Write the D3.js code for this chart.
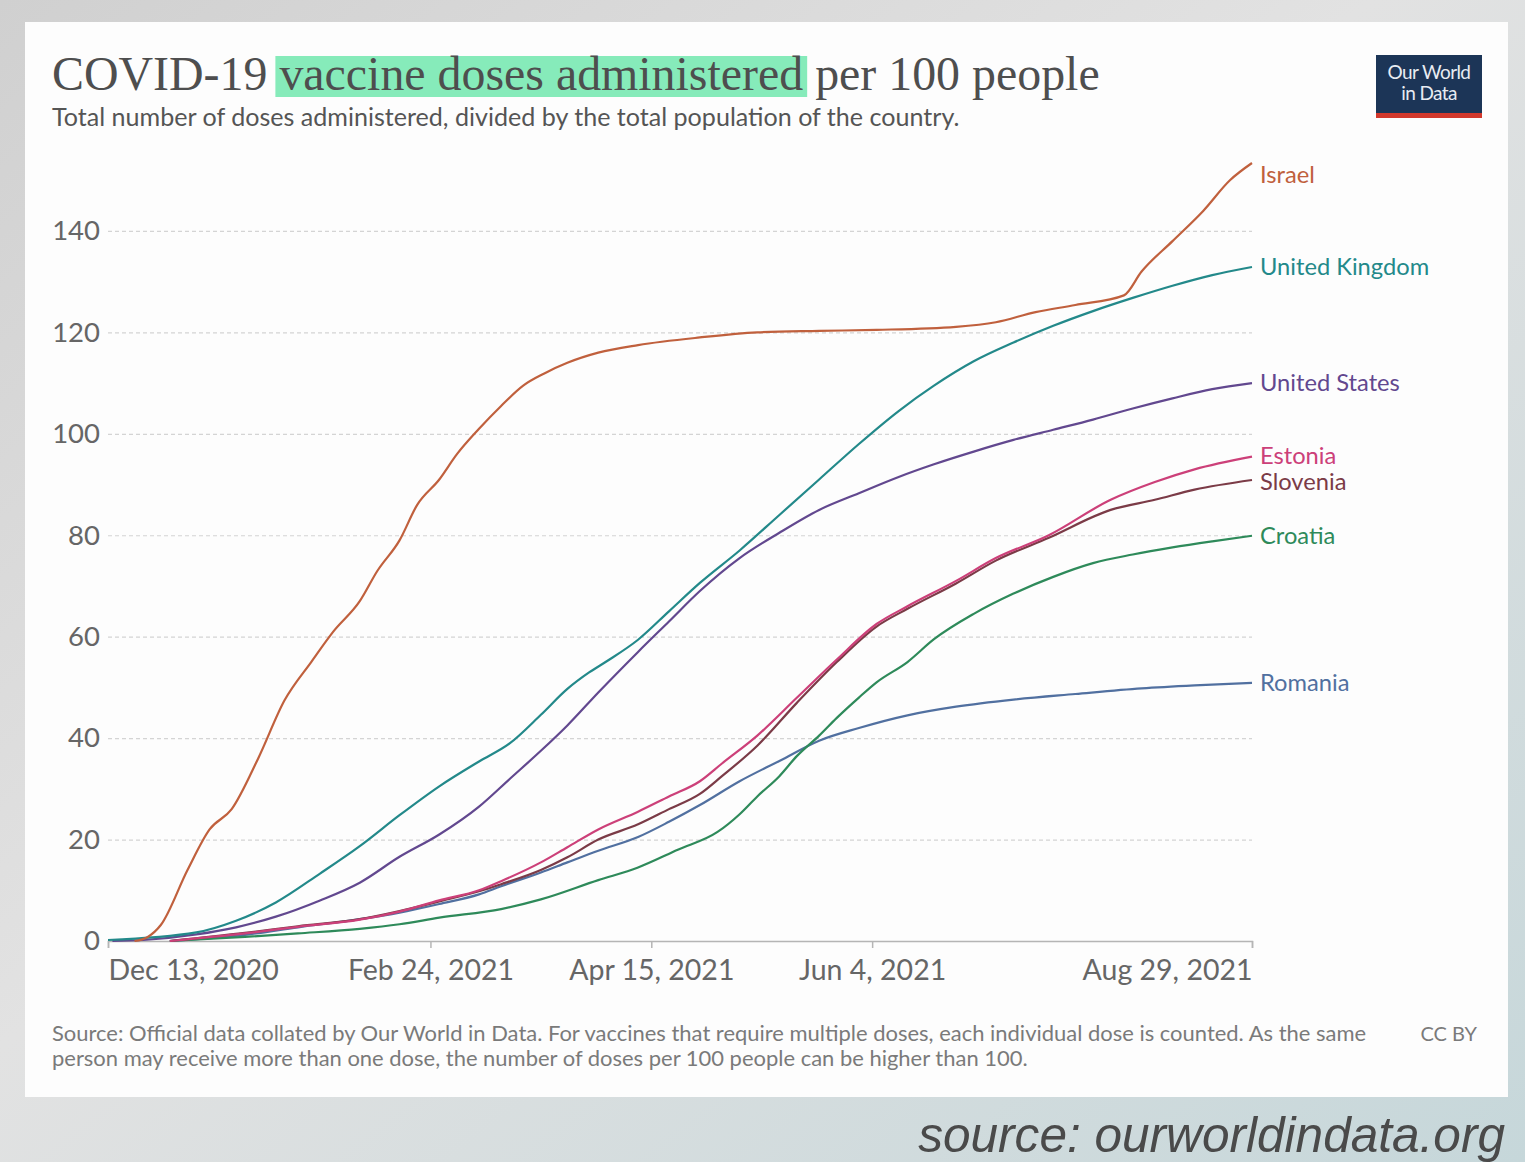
<!DOCTYPE html>
<html>
<head>
<meta charset="utf-8">
<script src="https://cdn.jsdelivr.net/npm/d3@7"></script>
<style>
    body { margin: 0; background: #d6d6d6; }
    svg { display: block; }
</style>
</head>
<body>
<svg id="chart" width="1525" height="1162"></svg>
<script>
// Doses per 100 people
const israel = [
    ['2020-12-19', 0], ['2020-12-22', 0.8], ['2020-12-25', 3.2], ['2020-12-31', 14], ['2021-01-05', 22],
    ['2021-01-10', 26], ['2021-01-16', 36], ['2021-01-22', 47.5], ['2021-01-28', 55], ['2021-02-02', 61],
    ['2021-02-08', 67], ['2021-02-12', 73], ['2021-02-17', 79], ['2021-02-21', 86], ['2021-02-26', 91],
    ['2021-03-02', 96], ['2021-03-07', 101], ['2021-03-12', 105.5], ['2021-03-17', 109.5], ['2021-03-22', 112],
    ['2021-03-27', 114], ['2021-04-03', 116], ['2021-04-12', 117.5], ['2021-04-26', 119], ['2021-05-09', 120],
    ['2021-05-23', 120.3], ['2021-06-05', 120.5], ['2021-06-23', 121.1], ['2021-07-02', 122], ['2021-07-11', 124],
    ['2021-07-20', 125.4], ['2021-07-31', 127.3], ['2021-08-04', 132], ['2021-08-11', 138], ['2021-08-18', 144],
    ['2021-08-24', 150], ['2021-08-29', 153.4]
];
const unitedKingdom = [
    ['2020-12-13', 0.2], ['2021-01-02', 1.7], ['2021-01-11', 4], ['2021-01-20', 7.6], ['2021-01-30', 13.3],
    ['2021-02-08', 18.7], ['2021-02-17', 24.8], ['2021-02-26', 30.5], ['2021-03-07', 35.4], ['2021-03-14', 39],
    ['2021-03-21', 44.6], ['2021-03-27', 49.7], ['2021-04-01', 53], ['2021-04-05', 55.2], ['2021-04-12', 59.4],
    ['2021-04-19', 65], ['2021-04-26', 70.6], ['2021-05-05', 77], ['2021-05-14', 84], ['2021-05-23', 91],
    ['2021-06-01', 98], ['2021-06-10', 104.5], ['2021-06-18', 109.5], ['2021-06-27', 114.3], ['2021-07-06', 118],
    ['2021-07-15', 121.3], ['2021-07-24', 124.2], ['2021-08-02', 126.8], ['2021-08-11', 129.2], ['2021-08-20', 131.3],
    ['2021-08-29', 132.9]
];
const unitedStates = [
    ['2020-12-14', 0], ['2020-12-21', 0.2], ['2021-01-02', 1.3], ['2021-01-11', 2.7], ['2021-01-20', 4.8],
    ['2021-01-30', 8], ['2021-02-08', 11.5], ['2021-02-17', 16.6], ['2021-02-26', 21], ['2021-03-07', 26.5],
    ['2021-03-14', 32], ['2021-03-21', 37.5], ['2021-03-27', 42.5], ['2021-04-03', 49], ['2021-04-12', 57],
    ['2021-04-19', 63], ['2021-04-26', 69], ['2021-05-05', 75.5], ['2021-05-14', 80.5], ['2021-05-23', 85],
    ['2021-06-01', 88.3], ['2021-06-10', 91.5], ['2021-06-18', 94], ['2021-06-27', 96.5], ['2021-07-06', 98.8],
    ['2021-07-15', 100.8], ['2021-07-24', 102.8], ['2021-08-02', 105], ['2021-08-11', 107], ['2021-08-20', 108.8],
    ['2021-08-29', 110]
];
const estonia = [
    ['2020-12-27', 0], ['2021-01-13', 1.5], ['2021-01-25', 2.8], ['2021-02-08', 4.2], ['2021-02-17', 5.8],
    ['2021-02-26', 8], ['2021-03-07', 10], ['2021-03-12', 11.8], ['2021-03-21', 15.5], ['2021-03-27', 18.5],
    ['2021-04-03', 22], ['2021-04-12', 25.5], ['2021-04-19', 28.5], ['2021-04-26', 31.5], ['2021-05-01', 35],
    ['2021-05-09', 40.5], ['2021-05-18', 48], ['2021-05-27', 55.5], ['2021-06-05', 62.5], ['2021-06-12', 66],
    ['2021-06-23', 71], ['2021-07-02', 75.5], ['2021-07-14', 80], ['2021-07-28', 87], ['2021-08-07', 90.5],
    ['2021-08-16', 93], ['2021-08-29', 95.5]
];
const slovenia = [
    ['2020-12-27', 0], ['2021-01-13', 1.6], ['2021-01-25', 2.9], ['2021-02-08', 4.3], ['2021-02-17', 5.9],
    ['2021-02-26', 7.8], ['2021-03-07', 9.8], ['2021-03-12', 11.2], ['2021-03-21', 14], ['2021-03-27', 16.5],
    ['2021-04-03', 20], ['2021-04-12', 23], ['2021-04-19', 26], ['2021-04-26', 29], ['2021-05-01', 32.5],
    ['2021-05-09', 38.5], ['2021-05-18', 47], ['2021-05-27', 55], ['2021-06-05', 62], ['2021-06-12', 65.5],
    ['2021-06-23', 70.5], ['2021-07-02', 75], ['2021-07-14', 79.5], ['2021-07-28', 85], ['2021-08-07', 87],
    ['2021-08-16', 89], ['2021-08-29', 90.9]
];
const croatia = [
    ['2020-12-27', 0], ['2021-01-13', 0.8], ['2021-01-25', 1.5], ['2021-02-08', 2.4], ['2021-02-17', 3.3],
    ['2021-02-26', 4.6], ['2021-03-12', 6.3], ['2021-03-21', 8.2], ['2021-04-03', 12], ['2021-04-12', 14.5],
    ['2021-04-21', 18], ['2021-04-30', 21.5], ['2021-05-05', 25], ['2021-05-09', 28.5], ['2021-05-14', 32.5],
    ['2021-05-18', 36.5], ['2021-05-23', 40.5], ['2021-05-27', 44], ['2021-06-01', 48], ['2021-06-05', 51],
    ['2021-06-12', 55], ['2021-06-18', 59.5], ['2021-06-27', 64.5], ['2021-07-06', 68.5], ['2021-07-15', 71.8],
    ['2021-07-24', 74.5], ['2021-08-02', 76.2], ['2021-08-11', 77.6], ['2021-08-20', 78.8], ['2021-08-29', 79.9]
];
const romania = [
    ['2020-12-27', 0], ['2021-01-13', 1.2], ['2021-01-25', 2.7], ['2021-02-08', 4.3], ['2021-02-17', 5.6],
    ['2021-02-26', 7.3], ['2021-03-07', 9.2], ['2021-03-12', 10.8], ['2021-03-21', 13.5], ['2021-03-27', 15.5],
    ['2021-04-03', 17.8], ['2021-04-12', 20.5], ['2021-04-19', 23.5], ['2021-04-26', 26.8], ['2021-05-05', 31.5],
    ['2021-05-14', 35.5], ['2021-05-23', 39.5], ['2021-06-01', 42], ['2021-06-12', 44.5], ['2021-06-23', 46.2],
    ['2021-07-06', 47.6], ['2021-07-20', 48.7], ['2021-08-04', 49.8], ['2021-08-16', 50.4], ['2021-08-29', 50.9]
];

const countries = ['Israel', 'United Kingdom', 'United States', 'Estonia', 'Slovenia', 'Croatia', 'Romania'];
const seriesValues = [israel, unitedKingdom, unitedStates, estonia, slovenia, croatia, romania];
const seriesColors = ['#c0603d', '#23898a', '#62488f', '#cc4079', '#7b3b47', '#2e8a5a', '#5170a0'];

const yTicks = [0, 20, 40, 60, 80, 100, 120, 140];
const xTickDates = ['2020-12-13', '2021-02-24', '2021-04-15', '2021-06-04', '2021-08-29'];

const titleParts = ['COVID-19 ', 'vaccine doses administered', ' per 100 people'];
const subtitle = 'Total number of doses administered, divided by the total population of the country.';
const sourceLines = [
    'Source: Official data collated by Our World in Data. For vaccines that require multiple doses, each individual dose is counted. As the same',
    'person may receive more than one dose, the number of doses per 100 people can be higher than 100.'
];

const parseDate = d3.timeParse('%Y-%m-%d');
const formatTick = d3.timeFormat('%b %-d, %Y');
const svg = d3.select('#chart');
const sans = 'Lato, "Open Sans", sans-serif';

// shrink or grow a text node's font size so it spans a given width
function fitWidth(sel, target) {
    const w = sel.node().getComputedTextLength();
    const fs = parseFloat(sel.attr('font-size'));
    sel.attr('font-size', fs * target / w);
    return fs * target / w;
}

function drawBackground() {
    const defs = svg.append('defs');
    const bg = defs.append('linearGradient').attr('id', 'bg').attr('x1', 0).attr('y1', 0).attr('x2', 1).attr('y2', 1);
    bg.append('stop').attr('offset', '0%').attr('stop-color', '#d0d0d0');
    bg.append('stop').attr('offset', '45%').attr('stop-color', '#e2e2e2');
    bg.append('stop').attr('offset', '100%').attr('stop-color', '#c6d7da');

    svg.append('rect').attr('width', 1525).attr('height', 1162).attr('fill', 'url(#bg)');
    // white card
    svg.append('rect')
        .attr('x', 25).attr('y', 22).attr('width', 1483).attr('height', 1075)
        .attr('fill', '#fdfdfd');
}

function drawHeader() {
    const title = svg.append('text')
        .attr('x', 52).attr('y', 90)
        .attr('font-family', '"Liberation Serif", "DejaVu Serif", serif')
        .attr('font-size', 44)
        .attr('fill', '#4e4e4e');
    title.selectAll('tspan').data(titleParts).enter().append('tspan').text(d => d);
    fitWidth(title, 1048);

    // green marker highlight behind the middle words
    const node = title.node();
    const start = titleParts[0].length;
    const end = start + titleParts[1].length - 1;
    const x0 = node.getStartPositionOfChar(start).x;
    const x1 = node.getEndPositionOfChar(end).x;
    svg.insert('rect', 'text')
        .attr('x', x0 - 4).attr('y', 56)
        .attr('width', x1 - x0 + 8).attr('height', 41)
        .attr('fill', '#86ebba');

    const sub = svg.append('text')
        .attr('x', 52).attr('y', 126)
        .attr('font-family', sans)
        .attr('font-size', 21)
        .attr('fill', '#555')
        .text(subtitle);
    fitWidth(sub, 908);

    // OWID logo
    const logo = svg.append('g').attr('transform', 'translate(1376,55)');
    logo.append('rect').attr('width', 106).attr('height', 58).attr('fill', '#1c3557');
    logo.append('rect').attr('y', 58).attr('width', 106).attr('height', 5).attr('fill', '#d2382c');
    logo.selectAll('text').data(['Our World', 'in Data']).enter().append('text')
        .attr('x', 53).attr('y', (d, i) => 24 + i * 21)
        .attr('text-anchor', 'middle')
        .attr('font-family', sans)
        .attr('font-size', 19)
        .attr('letter-spacing', -0.6)
        .attr('fill', '#e8ecf2')
        .text(d => d);
}

function drawChart() {
    const data = seriesValues.map((s, i) => ({
        name: countries[i],
        color: seriesColors[i],
        values: s.map(p => ({ date: parseDate(p[0]), value: p[1] }))
    }));

    const x = d3.scaleTime()
        .domain([parseDate(xTickDates[0]), parseDate(xTickDates[xTickDates.length - 1])])
        .range([108, 1252]);
    const y = d3.scaleLinear()
        .domain([0, d3.max(data, d => d3.max(d.values, v => v.value))])
        .range([941, 163]);

    // dotted gridlines + y labels
    const yAxis = svg.append('g')
        .attr('transform', 'translate(108,0)')
        .call(d3.axisLeft(y).tickValues(yTicks).tickSize(-1144).tickPadding(8));
    yAxis.select('.domain').remove();
    yAxis.selectAll('.tick line')
        .attr('stroke', '#d4d4d4')
        .attr('stroke-dasharray', '4,3')
        .attr('stroke-width', 1.2)
        .filter(d => d === 0).remove();
    yAxis.selectAll('.tick text')
        .attr('font-family', sans)
        .attr('font-size', 27.5)
        .attr('fill', '#666');

    // x axis
    const xDates = xTickDates.map(parseDate);
    const xAxis = svg.append('g')
        .attr('transform', 'translate(0,941)')
        .call(d3.axisBottom(x).tickValues(xDates).tickFormat(formatTick).tickSize(7).tickPadding(12));
    xAxis.select('.domain').attr('stroke', '#b5b5b5').attr('stroke-width', 1.5);
    xAxis.selectAll('.tick line').attr('stroke', '#b5b5b5').attr('stroke-width', 1.5);
    xAxis.selectAll('.tick text')
        .attr('font-family', sans)
        .attr('font-size', 28.5)
        .attr('fill', '#666')
        .attr('text-anchor', (d, i) => i === 0 ? 'start' : (i === xDates.length - 1 ? 'end' : 'middle'));

    // series lines
    const line = d3.line()
        .x(d => x(d.date))
        .y(d => y(d.value))
        .curve(d3.curveMonotoneX);

    svg.append('g').selectAll('path')
        .data(data.slice().reverse())
        .enter().append('path')
        .attr('d', d => line(d.values))
        .attr('fill', 'none')
        .attr('stroke', d => d.color)
        .attr('stroke-width', 2.2)
        .attr('stroke-linejoin', 'round');

    // end labels, kept below the top of the plot and nudged apart where they collide
    const labels = data.map(d => ({
        name: d.name,
        color: d.color,
        y: Math.max(175, y(d.values[d.values.length - 1].value))
    })).sort((a, b) => a.y - b.y);
    for (let i = 1; i < labels.length; i++) {
        if (labels[i].y - labels[i - 1].y < 26) {
            const mid = (labels[i].y + labels[i - 1].y) / 2;
            labels[i - 1].y = mid - 13;
            labels[i].y = mid + 13;
        }
    }
    svg.append('g').selectAll('text')
        .data(labels)
        .enter().append('text')
        .attr('x', 1260)
        .attr('y', d => d.y)
        .attr('dy', '0.35em')
        .attr('font-family', sans)
        .attr('font-size', 23.7)
        .attr('fill', d => d.color)
        .text(d => d.name);
}

function drawFooter() {
    const first = svg.append('text')
        .attr('x', 52).attr('y', 1041)
        .attr('font-family', sans)
        .attr('font-size', 18)
        .attr('fill', '#7a7a7a')
        .text(sourceLines[0]);
    const fs = fitWidth(first, 1315);
    svg.append('text')
        .attr('x', 52).attr('y', 1066)
        .attr('font-family', sans)
        .attr('font-size', fs)
        .attr('fill', '#7a7a7a')
        .text(sourceLines[1]);
    svg.append('text')
        .attr('x', 1477).attr('y', 1041)
        .attr('text-anchor', 'end')
        .attr('font-family', sans)
        .attr('font-size', 20)
        .attr('fill', '#7a7a7a')
        .text('CC BY');

    const credit = svg.append('text')
        .attr('x', 1505).attr('y', 1152)
        .attr('text-anchor', 'end')
        .attr('font-family', '"Liberation Sans", Arial, sans-serif')
        .attr('font-style', 'italic')
        .attr('font-size', 44)
        .attr('fill', '#4a4a4a')
        .text('source: ourworldindata.org');
    fitWidth(credit, 587);
}

drawBackground();
drawHeader();
drawChart();
drawFooter();
</script>
</body>
</html>
